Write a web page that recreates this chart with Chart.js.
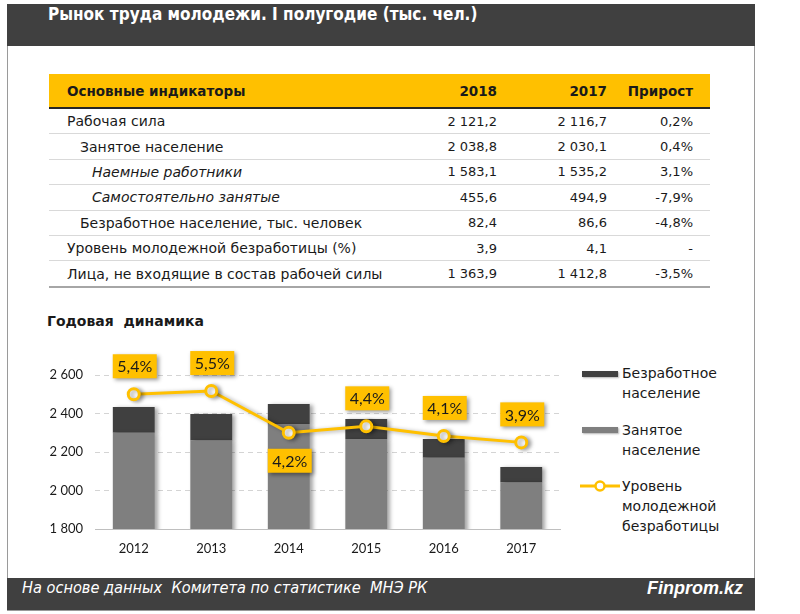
<!DOCTYPE html>
<html lang="ru">
<head>
<meta charset="UTF-8">
<title>Рынок труда молодежи</title>
<script src="https://cdn.jsdelivr.net/npm/chart.js"></script>
<style>
  body { margin: 0; width: 800px; height: 614px; background: #fff; position: relative; overflow: hidden;
         font-family: "DejaVu Sans", Verdana, sans-serif; color: #1a1a1a; }
  .frame { position: absolute; left: 7px; top: 4px; width: 746px; height: 605px; border: 1px solid #9a9a9a; }
  .head { position: absolute; left: 7px; top: 4px; width: 748px; height: 42px; background: #404040; }
  .head span { position: absolute; left: 41px; top: 0; line-height: 40px; color: #fff;
               font: bold 17px "DejaVu Sans Condensed", "Liberation Sans Narrow", sans-serif; }
  .foot { position: absolute; left: 7px; top: 578px; width: 748px; height: 32px; background: #404040; color: #fff; }
  .foot .src { position: absolute; left: 15px; top: 0; line-height: 31px; white-space: pre;
               font: italic 16.2px "DejaVu Sans Condensed", "Liberation Sans Narrow", sans-serif; }
  .foot .brand { position: absolute; right: 12px; top: 0; line-height: 31px;
                 font: italic bold 18px "Liberation Sans", sans-serif; }
  table.ind { position: absolute; left: 49px; top: 74px; width: 661px; border-collapse: collapse; table-layout: fixed; font-size: 13px; }
  table.ind th { background: #ffc000; height: 33px; font-weight: bold; font-size: 13.5px; border-bottom: 2px solid #262626; padding: 0; }
  table.ind td { height: 24.4px; border-bottom: 1px solid #d9d9d9; padding: 0; white-space: nowrap; }
  table.ind td.lbl { font-size: 14px; }
  table.ind tr:last-child td { border-bottom: 2px solid #a6a6a6; }
  table.ind .num { text-align: right; }
  table.ind .last { padding-right: 17px; }
  .l0 { padding-left: 18px !important; text-align: left; }
  .l1 { padding-left: 31px !important; }
  .l2 { padding-left: 43px !important; font-style: italic; }
  .sub { position: absolute; left: 47px; top: 313px; font-weight: bold; font-size: 14px; white-space: pre; }
  #chart { position: absolute; left: 30px; top: 345px; }
  .leg { position: absolute; left: 622px; font-size: 14px; line-height: 20px; color: #1a1a1a; }
  .sw { position: absolute; left: 582px; width: 36px; height: 6px; box-shadow: 1px 1px 2px rgba(0,0,0,0.3); }
</style>
</head>
<body>
<div class="frame"></div>
<div class="head"><span>Рынок труда молодежи. I полугодие (тыс. чел.)</span></div>

<table class="ind" id="ind">
  <colgroup><col style="width:320px"><col style="width:128px"><col style="width:110px"><col style="width:103px"></colgroup>
  <thead><tr><th class="l0">Основные индикаторы</th><th class="num">2018</th><th class="num">2017</th><th class="num last">Прирост</th></tr></thead>
  <tbody></tbody>
</table>

<div class="sub">Годовая  динамика</div>
<canvas id="chart" width="540" height="220"></canvas>

<div class="sw" style="top:371px; background:#404040;"></div>
<div class="leg" style="top:363px;">Безработное<br>население</div>
<div class="sw" style="top:427px; background:#7f7f7f;"></div>
<div class="leg" style="top:420px;">Занятое<br>население</div>
<svg style="position:absolute; left:578px; top:478px;" width="44" height="16">
  <line x1="2" y1="8" x2="42" y2="8" stroke="#ffc000" stroke-width="3"/>
  <circle cx="22" cy="8" r="4.5" fill="#fff" stroke="#ffc000" stroke-width="2.5"/>
</svg>
<div class="leg" style="top:476px;">Уровень<br>молодежной<br>безработицы</div>

<div class="foot"><span class="src">На основе данных  Комитета по статистике  МНЭ РК</span><span class="brand">Finprom.kz</span></div>

<script>
// таблица
const rowLabels = ['Рабочая сила', 'Занятое население', 'Наемные работники', 'Самостоятельно занятые',
                   'Безработное население, тыс. человек', 'Уровень молодежной безработицы (%)',
                   'Лица, не входящие в состав рабочей силы'];
const rowLevels = [0, 1, 2, 2, 1, 0, 0];
const values2018 = ['2 121,2', '2 038,8', '1 583,1', '455,6', '82,4', '3,9', '1 363,9'];
const values2017 = ['2 116,7', '2 030,1', '1 535,2', '494,9', '86,6', '4,1', '1 412,8'];
const growth = ['0,2%', '0,4%', '3,1%', '-7,9%', '-4,8%', '-', '-3,5%'];

// годовая динамика
const years = ['2012', '2013', '2014', '2015', '2016', '2017'];
const employed = [2300, 2260, 2345, 2268, 2170, 2042];
const unemployed = [134, 137, 104, 103, 98, 80];
const unemploymentRate = [5.4, 5.5, 4.2, 4.4, 4.1, 3.9];
const yTicks = [1800, 2000, 2200, 2400, 2600];

const tbody = document.querySelector('#ind tbody');
rowLabels.forEach((label, i) => {
  const tr = document.createElement('tr');
  tr.innerHTML = '<td class="lbl l' + rowLevels[i] + '">' + label + '</td>' +
    '<td class="num">' + values2018[i] + '</td>' +
    '<td class="num">' + values2017[i] + '</td>' +
    '<td class="num last">' + growth[i] + '</td>';
  tbody.appendChild(tr);
});

const fmtThousands = v => String(v).replace(/\B(?=(\d{3})+(?!\d))/g, ' ');
const fmtPct = v => v.toFixed(1).replace('.', ',') + '%';

const shadowPlugin = {
  id: 'shadow',
  beforeDatasetDraw(chart) {
    const ctx = chart.ctx;
    ctx.save();
    ctx.shadowColor = 'rgba(0,0,0,0.35)';
    ctx.shadowBlur = 4;
    ctx.shadowOffsetX = 3;
    ctx.shadowOffsetY = 1;
  },
  afterDatasetDraw(chart) {
    chart.ctx.restore();
  }
};

const rateLabels = {
  id: 'rateLabels',
  afterDatasetsDraw(chart, args, opts) {
    const ctx = chart.ctx;
    const meta = chart.getDatasetMeta(2);
    meta.data.forEach((pt, i) => {
      const below = opts.below.includes(i);
      const cx = pt.x + 1;
      const cy = pt.y + (below ? 28 : -28);
      const w = 44, h = 24;
      ctx.save();
      ctx.shadowColor = 'rgba(0,0,0,0.4)';
      ctx.shadowBlur = 4;
      ctx.shadowOffsetX = 2;
      ctx.shadowOffsetY = 2;
      ctx.fillStyle = '#ffc000';
      ctx.fillRect(cx - w / 2, cy - h / 2, w, h);
      ctx.restore();
      ctx.save();
      ctx.fillStyle = '#1a1a1a';
      ctx.font = '16px Lato';
      ctx.textAlign = 'center';
      ctx.textBaseline = 'middle';
      ctx.fillText(fmtPct(unemploymentRate[i]), cx, cy + 1);
      ctx.restore();
    });
  }
};

new Chart(document.getElementById('chart'), {
  type: 'bar',
  data: {
    labels: years,
    datasets: [
      { label: 'Занятое население', data: employed, backgroundColor: '#7f7f7f', order: 1,
        barPercentage: 0.54, categoryPercentage: 1 },
      { label: 'Безработное население', data: unemployed, backgroundColor: '#404040', order: 1,
        barPercentage: 0.54, categoryPercentage: 1 },
      { type: 'line', label: 'Уровень молодежной безработицы', data: unemploymentRate, yAxisID: 'y1', order: 0,
        borderColor: '#ffc000', borderWidth: 3, pointRadius: 5.5, pointBorderWidth: 3,
        pointBackgroundColor: '#fff', pointBorderColor: '#ffc000', tension: 0 }
    ]
  },
  options: {
    responsive: false,
    animation: false,
    layout: { padding: { top: 30, right: 10, left: 0, bottom: 0 } },
    plugins: {
      legend: { display: false },
      tooltip: { enabled: false },
      rateLabels: { below: [2] }
    },
    scales: {
      x: {
        stacked: true,
        grid: { display: false, drawTicks: false },
        border: { display: true, color: '#bfbfbf', width: 1 },
        ticks: { color: '#1a1a1a', font: { family: 'Lato', size: 13 }, padding: 12 },
        afterFit(scale) { scale.height = 36; }
      },
      y: {
        stacked: true,
        min: yTicks[0], max: yTicks[yTicks.length - 1],
        afterBuildTicks(scale) { scale.ticks = yTicks.map(v => ({ value: v })); },
        grid: {
          drawTicks: false,
          color: ctx => (ctx.tick && ctx.tick.value === yTicks[0]) ? 'rgba(0,0,0,0)' : '#d4d4d4'
        },
        border: { display: false, dash: [5, 4] },
        ticks: { color: '#1a1a1a', font: { family: 'Lato', size: 13 }, padding: 12, callback: v => fmtThousands(v) },
        afterFit(scale) { scale.width = 65; }
      },
      y1: { display: false, min: 1.2, max: 6.0 }
    }
  },
  plugins: [shadowPlugin, rateLabels]
});
</script>
</body>
</html>
